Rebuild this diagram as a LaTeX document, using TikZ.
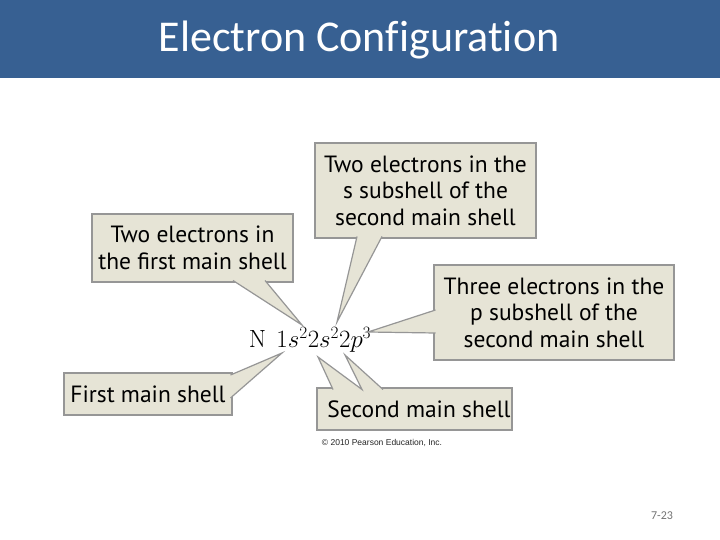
\documentclass[tikz,border=0pt]{standalone}
\usepackage[no-math]{fontspec}
\setmainfont{Carlito}[RawFeature=-liga]
\newfontfamily\calloutfont{PT Sans}
\newfontfamily\arialfont{Liberation Sans}

\begin{document}
\begin{tikzpicture}[x=1pt,y=-1pt]

% Colours of the slide
\definecolor{headblue}{RGB}{55,96,146}
\definecolor{callbeige}{RGB}{230,228,214}
\definecolor{callgray}{RGB}{150,150,150}

\tikzset{
  callbox/.style={draw=callgray, fill=callbeige, line width=1.2pt, inner sep=0pt,
    align=center, font=\calloutfont\fontsize{23.5}{26.5}\selectfont},
  callfill/.style={fill=callbeige},
  callline/.style={draw=callgray, line width=1.2pt, line join=miter}
}

\useasboundingbox (0,0) rectangle (720,540);
\fill[white] (0,0) rectangle (720,540);

% Title bar
\fill[headblue] (0,0) rectangle (720,78);
\node[text=white, font=\fontsize{44}{50}\selectfont] (title) at (359,40) {Electron Configuration};

% Formula
\node[font=\fontsize{23}{26}\selectfont] (formula) at (310,340) {$\mathrm{N}\ \ 1s^2 2s^2 2p^3$};

% Callout boxes
\node[callbox, minimum width=221, minimum height=95] (ssub) at (425.5,190.5)
  {Two electrons in the\\s subshell of the\\second main shell};
\node[callbox, minimum width=201, minimum height=68] (firstel) at (192.5,248)
  {Two electrons in\\the first main shell};
\node[callbox, minimum width=240, minimum height=95] (psub) at (554,312.5)
  {Three electrons in the\\p subshell of the\\second main shell};
\node[callbox, minimum width=168, minimum height=42] (firstsh) at (148,394)
  {First main shell};
\node[callbox, minimum width=195, minimum height=42] (secondsh) at (414.5,409)
  {\hspace*{9pt}Second main shell};

% Pointer tips
\coordinate (tipss) at (337,322);
\coordinate (tipfe) at (302,325);
\coordinate (tipps) at (368,332);
\coordinate (tipfs) at (282,353);
\coordinate (tipsa) at (318,357);
\coordinate (tipsb) at (345,355);

% Pointers
\fill[callfill] (357,236.5) -- (tipss) -- (382,236.5) -- cycle;
\draw[callline] (357,236.5) -- (tipss) -- (382,236.5);

\fill[callfill] (233,280.5) -- (tipfe) -- (265,280.5) -- cycle;
\draw[callline] (233,280.5) -- (tipfe) -- (265,280.5);

\fill[callfill] (435.5,310) -- (tipps) -- (435.5,333) -- cycle;
\draw[callline] (435.5,310) -- (tipps) -- (435.5,333);

\fill[callfill] (230.5,375) -- (tipfs) -- (230.5,398) -- cycle;
\draw[callline] (230.5,375) -- (tipfs) -- (230.5,398);

\fill[callfill] (333,389.5) -- (tipsa) -- (362,389.5) -- cycle;
\fill[callfill] (362,389.5) -- (tipsb) -- (383,389.5) -- cycle;
\draw[callline] (333,389.5) -- (tipsa) -- (362,389.5) -- (tipsb) -- (383,389.5);

% Credit and page number
\node[font=\arialfont\fontsize{8.5}{10}\selectfont, text=black!85] (credit) at (382,443)
  {\textcopyright\ 2010 Pearson Education, Inc.};
\node[font=\fontsize{12}{14}\selectfont, text=black!55] (pagenum) at (662,516) {7-23};

\end{tikzpicture}
\end{document}
